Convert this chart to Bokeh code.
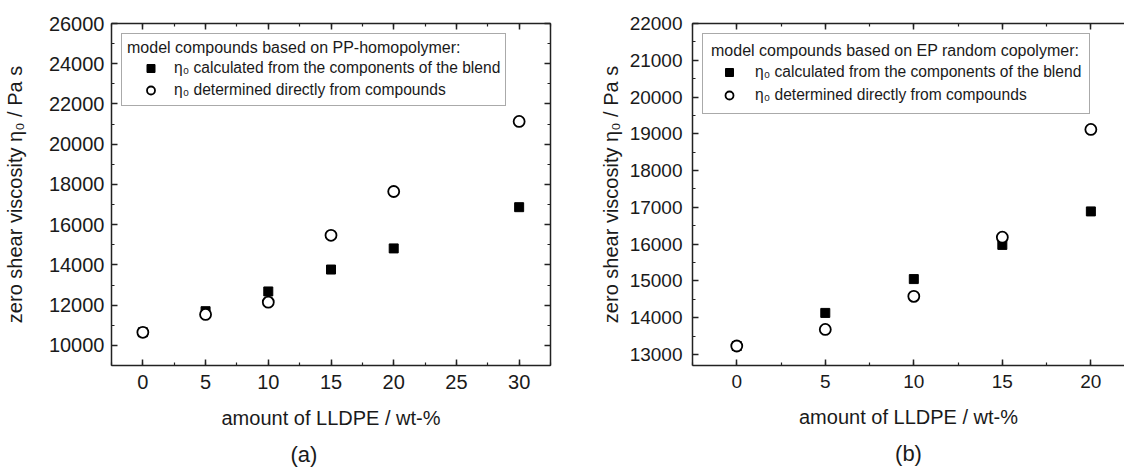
from bokeh.plotting import figure
from bokeh.layouts import row
from bokeh.models import (LinearAxis, SingleIntervalTicker, Range1d, Legend, LegendItem,
                          Title, CustomJSTickFormatter)
from bokeh.embed import file_html
from bokeh.resources import INLINE

# ---------------- data ----------------
# panel (a): model compounds based on PP-homopolymer
a_lldpe = [0, 5, 10, 15, 20, 30]
a_eta_calc = [10650, 11700, 12680, 13770, 14820, 16870]
a_eta_meas = [10650, 11540, 12150, 15470, 17650, 21130]

# panel (b): model compounds based on EP random copolymer
b_lldpe = [0, 5, 10, 15, 20]
b_eta_calc = [13230, 14130, 15050, 15980, 16890]
b_eta_meas = [13230, 13680, 14580, 16190, 19120]

a_legend_title = "model compounds based on PP-homopolymer:"
b_legend_title = "model compounds based on EP random copolymer:"
label_calc = "\u03b7\u2080 calculated from the components of the blend"
label_meas = "\u03b7\u2080 determined directly from compounds"
x_label = "amount of LLDPE / wt-%"
y_label = "zero shear viscosity \u03b7\u2080 / Pa s"

FONT = "Liberation Sans"
TXT = "#1a1a1a"
LINE = "#222222"
H = 476


def style_axis(ax, tick_size):
    ax.axis_line_color = LINE
    ax.axis_line_width = 1.5
    ax.major_tick_line_color = LINE
    ax.minor_tick_line_color = LINE
    ax.major_tick_line_width = 1.5
    ax.minor_tick_line_width = 1.2
    ax.major_tick_in = 6
    ax.major_tick_out = 0
    ax.minor_tick_in = 3
    ax.minor_tick_out = 0
    ax.major_label_text_font = FONT
    ax.major_label_text_font_size = tick_size
    ax.major_label_text_color = TXT
    ax.axis_label_text_font = FONT
    ax.axis_label_text_font_size = "20px"
    ax.axis_label_text_font_style = "normal"
    ax.axis_label_text_color = TXT


def make_panel(xs, y_calc, y_meas, xr, yr, xint, yint, width, mb_left, mb_right,
               tick_size, ylab_standoff, ylab_label_standoff, legend_title,
               lg, panel_label, panel_align, panel_offset, right_axis):
    p = figure(width=width, height=H, x_range=Range1d(*xr), y_range=Range1d(*yr),
               output_backend="svg", toolbar_location=None,
               min_border_left=mb_left, min_border_right=mb_right,
               min_border_top=23, min_border_bottom=H - 365)
    p.outline_line_color = None
    p.background_fill_color = "white"
    p.border_fill_color = "white"
    p.grid.visible = False

    p.xaxis.ticker = SingleIntervalTicker(interval=xint, num_minor_ticks=2)
    p.yaxis.ticker = SingleIntervalTicker(interval=yint, num_minor_ticks=2)
    p.xaxis.axis_label = x_label
    p.yaxis.axis_label = y_label
    for ax in p.xaxis + p.yaxis:
        style_axis(ax, tick_size)
    p.xaxis.major_label_standoff = 9
    p.xaxis.axis_label_standoff = 15
    p.yaxis.major_label_standoff = ylab_label_standoff
    p.yaxis.axis_label_standoff = ylab_standoff

    top = LinearAxis(ticker=SingleIntervalTicker(interval=xint, num_minor_ticks=2),
                     formatter=CustomJSTickFormatter(code="return ''"))
    style_axis(top, tick_size)
    p.add_layout(top, "above")
    if right_axis:
        rt = LinearAxis(ticker=SingleIntervalTicker(interval=yint, num_minor_ticks=2),
                        formatter=CustomJSTickFormatter(code="return ''"))
        style_axis(rt, tick_size)
        p.add_layout(rt, "right")

    sq = p.scatter(xs, y_calc, marker="square", size=9, fill_color="black",
                   line_color="black", line_width=1)
    ci = p.scatter(xs, y_meas, marker="circle", size=11, fill_color="white",
                   line_color="black", line_width=1.8)

    legend = Legend(items=[LegendItem(label=label_calc, renderers=[sq]),
                           LegendItem(label=label_meas, renderers=[ci])],
                    title=legend_title, location="top_left")
    legend.title_text_font = FONT
    legend.title_text_font_size = "16px"
    legend.title_text_font_style = "normal"
    legend.title_text_color = TXT
    legend.label_text_font = FONT
    legend.label_text_font_size = "15.6px"
    legend.label_text_color = TXT
    legend.border_line_color = "#555555"
    legend.border_line_width = 1.5
    legend.background_fill_color = "white"
    legend.background_fill_alpha = 1.0
    legend.label_height = 20
    legend.glyph_height = 20
    legend.padding = lg["padding"]
    legend.margin = lg["margin"]
    legend.spacing = lg["spacing"]
    legend.title_standoff = lg["title_standoff"]
    legend.glyph_width = lg["glyph_width"]
    legend.label_standoff = lg["label_standoff"]
    p.add_layout(legend)

    t = Title(text=panel_label, align=panel_align, offset=panel_offset,
              text_font=FONT, text_font_size="22px", text_font_style="normal",
              text_color=TXT, standoff=17)
    p.add_layout(t, "below")
    return p


pa = make_panel(a_lldpe, a_eta_calc, a_eta_meas, (-2.5, 32.5), (9000, 26000), 5, 2000,
                560, 107, 10, "20px", 20, 7, a_legend_title,
                dict(padding=5, margin=10, spacing=2, title_standoff=1,
                     glyph_width=47, label_standoff=0),
                "(a)", "left", 179, True)
pb = make_panel(b_lldpe, b_eta_calc, b_eta_meas, (-2.5, 21.9), (12700, 22000), 5, 1000,
                564, 132, 0, "19px", 5, 10, b_legend_title,
                dict(padding=8, margin=10, spacing=3, title_standoff=2,
                     glyph_width=36, label_standoff=8),
                "(b)", "center", 0, False)

layout = row(pa, pb)
open("out.html", "w").write(file_html(layout, INLINE))
